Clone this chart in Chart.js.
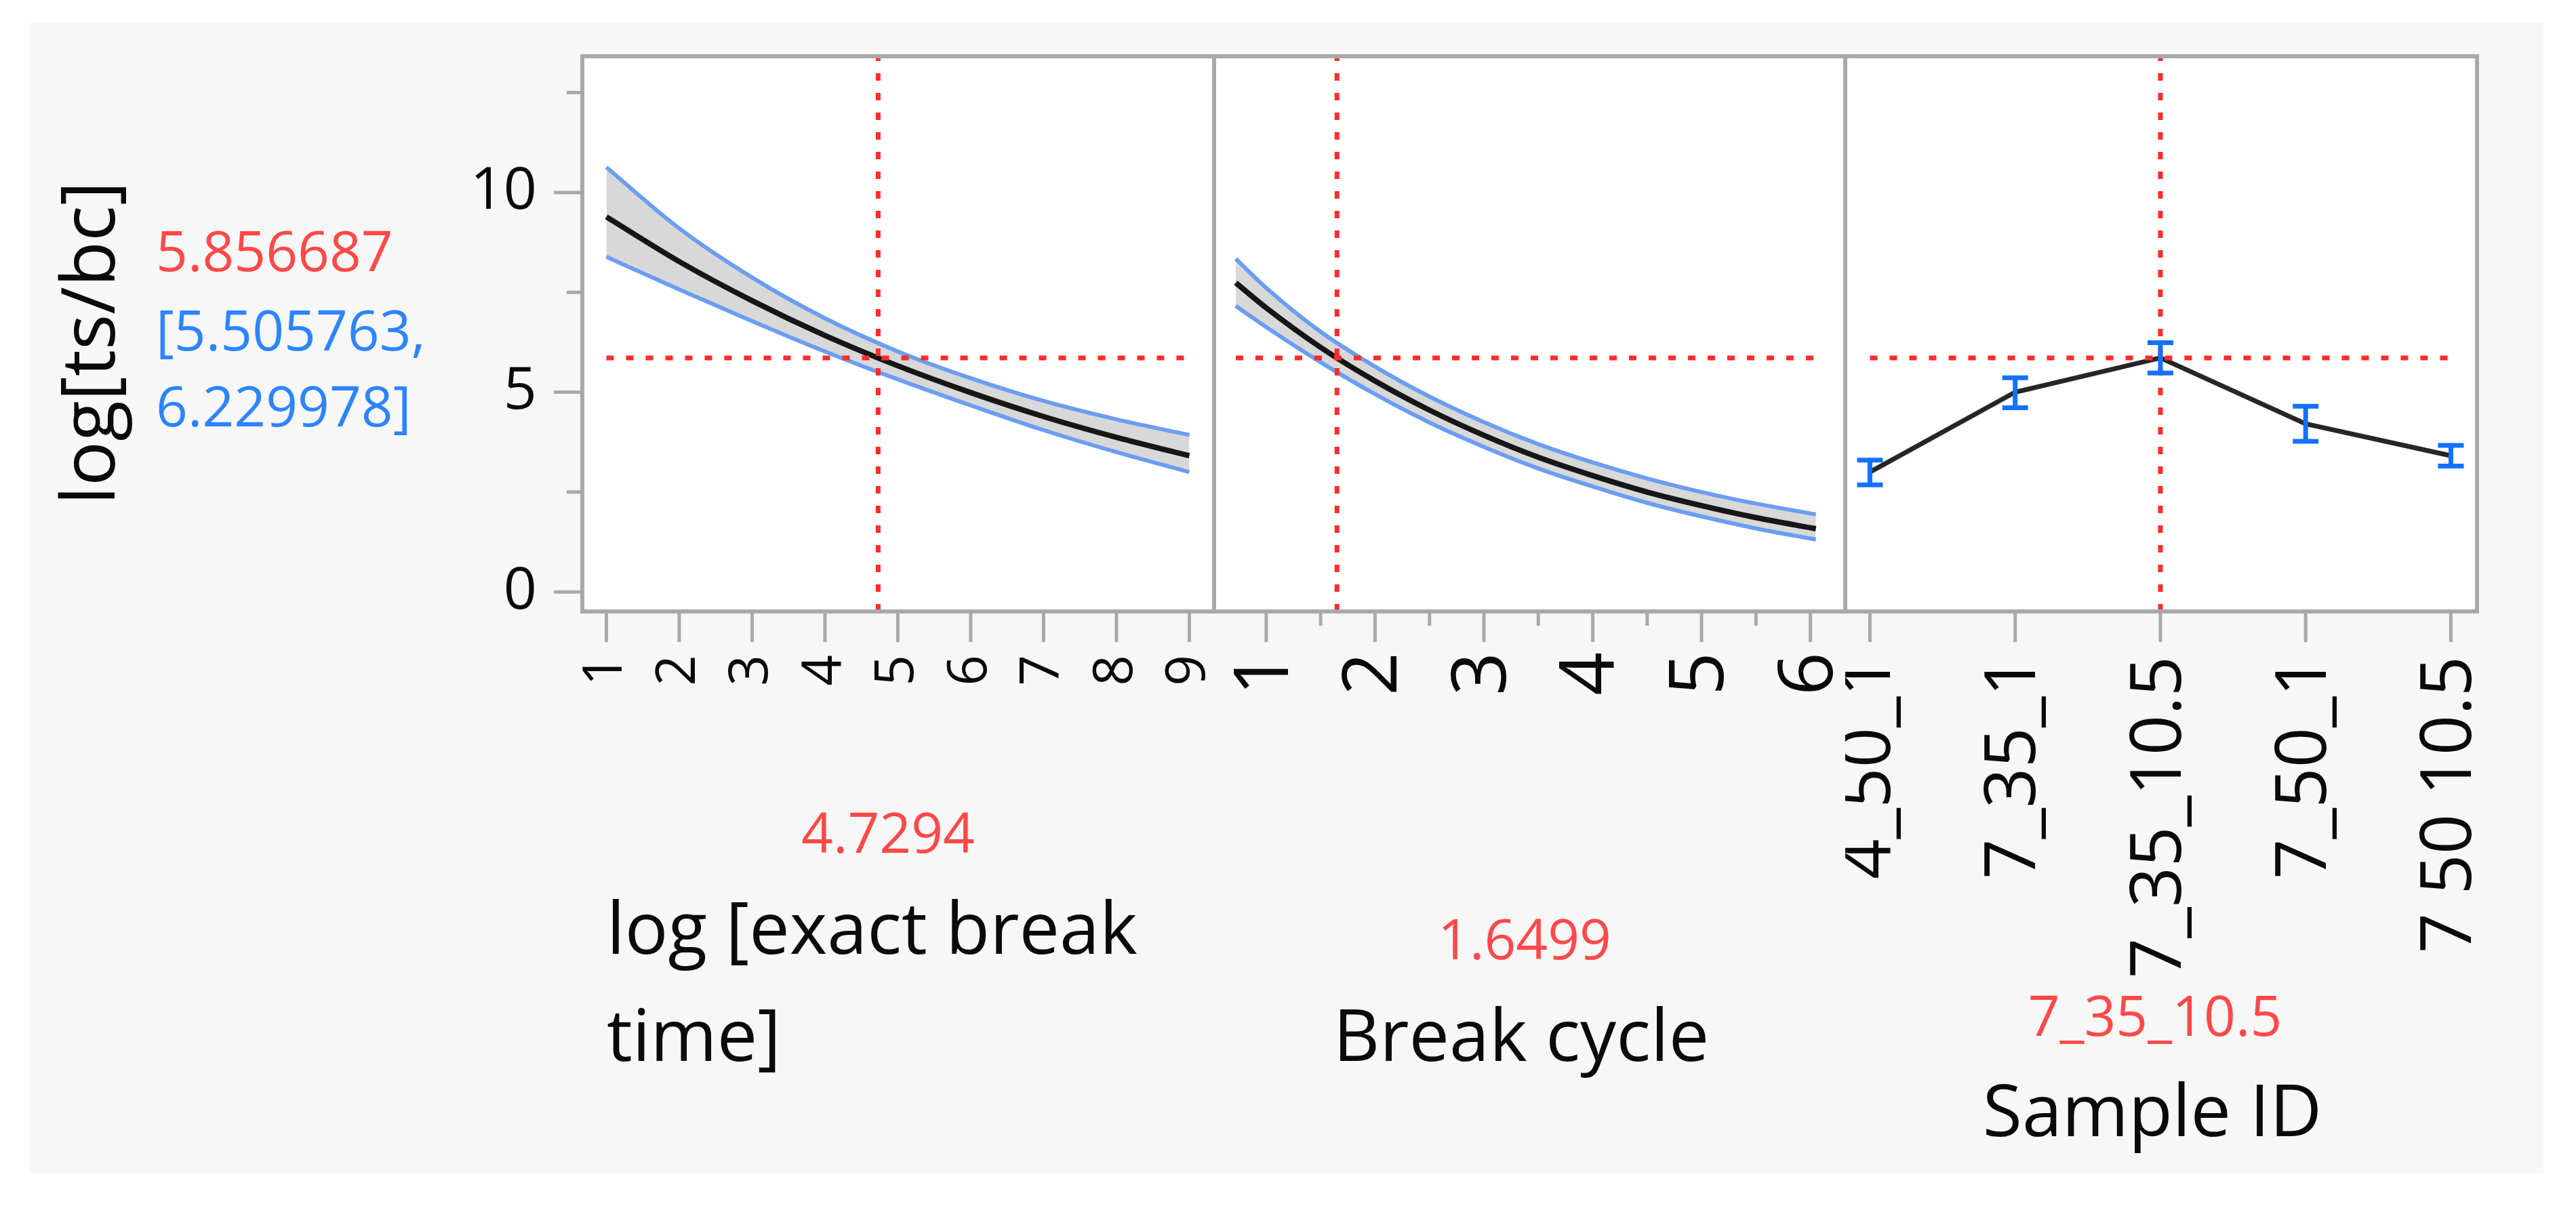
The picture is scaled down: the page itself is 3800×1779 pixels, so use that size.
<!DOCTYPE html>
<html>
<head>
<meta charset="utf-8">
<script src="https://cdn.jsdelivr.net/npm/chart.js@4.4.1/dist/chart.umd.min.js"></script>
<style>
  html, body { margin: 0; padding: 0; background: #fff; }
  #page { position: relative; width: 3800px; height: 1779px; font-family: 'Open Sans', sans-serif; color: #0a0a0a; }
  #box { position: absolute; left: 44px; top: 34px; width: 3708px; height: 1697px; background: #f7f7f7; }
  canvas { position: absolute; top: 60px; }
  .txt { position: absolute; line-height: 1; white-space: nowrap; }
  .mid { transform: translateX(-50%); }
  .red { color: #ff4848; font-size: 82px; }
  .blue { color: #2c84ff; font-size: 82px; }
  .title { font-size: 106px; }
</style>
</head>
<body>
<div id="page">
  <div id="box"></div>
  <canvas id="c1" width="1231" height="1400" style="left:560px"></canvas>
  <canvas id="c2" width="931" height="1400" style="left:1791px"></canvas>
  <canvas id="c3" width="978" height="1400" style="left:2722px"></canvas>

  <div class="txt" id="ytitle" style="font-size:110px;left:126px;top:506px;transform:translate(-50%,-50%) rotate(-90deg)">log[ts/bc]</div>
  <div class="txt red" id="predTxt" style="left:230px;top:327px"></div>
  <div class="txt blue" id="ciLow" style="left:230px;top:444px"></div>
  <div class="txt blue" id="ciHigh" style="left:230px;top:556px"></div>

  <div class="txt red mid" id="timeTxt" style="left:1310px;top:1185px"></div>
  <div class="txt title" style="left:895px;top:1313px">log [exact break</div>
  <div class="txt title" style="left:895px;top:1471px">time]</div>

  <div class="txt red mid" id="cycleTxt" style="left:2249px;top:1342px"></div>
  <div class="txt title mid" style="left:2244px;top:1471px">Break cycle</div>

  <div class="txt red mid" id="sampleTxt" style="left:3179px;top:1455px"></div>
  <div class="txt title mid" style="left:3175px;top:1582px">Sample ID</div>
</div>

<script>
// current settings of the profiler
const predicted = 5.856687;
const ciLow = 5.505763;
const ciHigh = 6.229978;
const currentTime = 4.7294;
const currentCycle = 1.6499;
const currentSample = '7_35_10.5';

// log [exact break time] profile
const timeX = [1, 2, 3, 4, 5, 6, 7, 8, 9];
const timeMean = [9.39, 8.27, 7.29, 6.42, 5.66, 4.99, 4.39, 3.87, 3.41];
const timeUpper = [10.63, 9.10, 7.87, 6.85, 6.02, 5.35, 4.78, 4.32, 3.93];
const timeLower = [8.39, 7.57, 6.78, 6.02, 5.32, 4.67, 4.05, 3.50, 3.00];
const timeTicks = [1, 2, 3, 4, 5, 6, 7, 8, 9];

// Break cycle profile
const cycleX = [0.72, 1, 1.5, 2, 2.5, 3, 3.5, 4, 4.5, 5, 5.5, 6.05];
const cycleMean = [7.74, 7.11, 6.12, 5.28, 4.55, 3.92, 3.37, 2.91, 2.50, 2.16, 1.86, 1.58];
const cycleUpper = [8.34, 7.61, 6.51, 5.64, 4.89, 4.25, 3.70, 3.24, 2.84, 2.50, 2.21, 1.94];
const cycleLower = [7.16, 6.63, 5.75, 4.95, 4.24, 3.63, 3.09, 2.64, 2.23, 1.89, 1.59, 1.31];
const cycleTicks = [1, 1.5, 2, 2.5, 3, 3.5, 4, 4.5, 5, 5.5, 6];

// Sample ID profile
const sampleIds = ['4_50_1', '7_35_1', '7_35_10.5', '7_50_1', '7 50 10.5'];
const sampleMean = [3.00, 5.00, 5.86, 4.21, 3.41];
const sampleLow = [2.68, 4.61, 5.48, 3.77, 3.15];
const sampleHigh = [3.30, 5.36, 6.24, 4.65, 3.67];

// shared y axis
const yTicks = [0, 2.5, 5, 7.5, 10, 12.5];
const yMin = -0.49;
const yMax = 13.41;

const red = '#ff2b2b';
const blueEdge = '#6b9ef2';
const bandFill = '#d8d8d8';
const frameGrey = '#a9a9a9';

document.getElementById('predTxt').textContent = String(predicted);
document.getElementById('ciLow').textContent = '[' + ciLow + ',';
document.getElementById('ciHigh').textContent = ciHigh + ']';
document.getElementById('timeTxt').textContent = String(currentTime);
document.getElementById('cycleTxt').textContent = String(currentCycle);
document.getElementById('sampleTxt').textContent = currentSample;

function pts(xs, ys) {
    return xs.map((x, i) => ({ x: x, y: ys[i] }));
}

// white plot area, grey frame and tick marks
const frame = {
    id: 'frame',
    beforeDraw(chart) {
        const { ctx, chartArea: a } = chart;
        ctx.save();
        ctx.fillStyle = '#fff';
        ctx.fillRect(a.left, a.top, a.right - a.left, a.bottom - a.top);
        ctx.restore();
    },
    afterDraw(chart, args, opts) {
        const { ctx, chartArea: a, scales } = chart;
        ctx.save();
        ctx.strokeStyle = frameGrey;
        ctx.lineWidth = 6;
        ctx.strokeRect(a.left, a.top, a.right - a.left, a.bottom - a.top);
        ctx.lineWidth = 5;
        ctx.beginPath();
        scales.x.ticks.forEach(t => {
            const px = scales.x.getPixelForValue(t.value);
            const len = Number.isInteger(t.value) ? 45 : 21;
            ctx.moveTo(px, a.bottom);
            ctx.lineTo(px, a.bottom + len);
        });
        if (opts.yMarks) {
            scales.y.ticks.forEach(t => {
                const py = scales.y.getPixelForValue(t.value);
                const len = t.value % 5 === 0 ? 42 : 23;
                ctx.moveTo(a.left, py);
                ctx.lineTo(a.left - len, py);
            });
        }
        ctx.stroke();
        ctx.restore();
    }
};

// confidence bars for the Sample ID panel
const errorBars = {
    id: 'errorBars',
    afterDatasetsDraw(chart) {
        const { ctx, scales: { x, y } } = chart;
        ctx.save();
        ctx.strokeStyle = '#1470ff';
        ctx.lineWidth = 7;
        sampleMean.forEach((m, i) => {
            const px = x.getPixelForValue(i);
            const top = y.getPixelForValue(sampleHigh[i]);
            const bot = y.getPixelForValue(sampleLow[i]);
            ctx.beginPath();
            ctx.moveTo(px, top); ctx.lineTo(px, bot);
            ctx.moveTo(px - 19, top); ctx.lineTo(px + 19, top);
            ctx.moveTo(px - 19, bot); ctx.lineTo(px + 19, bot);
            ctx.stroke();
        });
        ctx.restore();
    }
};

function bandSets(xs, mean, upper, lower) {
    return [
        { data: pts(xs, upper), borderWidth: 0, pointRadius: 0, fill: '+1', backgroundColor: bandFill, cubicInterpolationMode: 'monotone', order: 5 },
        { data: pts(xs, lower), borderWidth: 0, pointRadius: 0, fill: false, cubicInterpolationMode: 'monotone', order: 5 },
        { data: pts(xs, upper), borderColor: blueEdge, borderWidth: 6, pointRadius: 0, fill: false, cubicInterpolationMode: 'monotone', order: 3 },
        { data: pts(xs, lower), borderColor: blueEdge, borderWidth: 6, pointRadius: 0, fill: false, cubicInterpolationMode: 'monotone', order: 3 },
        { data: pts(xs, mean), borderColor: '#161616', borderWidth: 8, pointRadius: 0, fill: false, cubicInterpolationMode: 'monotone', order: 1 }
    ];
}

function crossSets(x0, x1, xNow) {
    return [
        { data: [{ x: x0, y: predicted }, { x: x1, y: predicted }], borderColor: red, borderWidth: 7, borderDash: [11, 18], pointRadius: 0, fill: false, order: 0 },
        { data: [{ x: xNow, y: yMin }, { x: xNow, y: yMax }], borderColor: red, borderWidth: 7, borderDash: [11, 18], pointRadius: 0, fill: false, order: 0 }
    ];
}

function makeOptions(cfg) {
    return {
        responsive: false,
        animation: false,
        layout: { padding: { top: 23, right: cfg.padRight || 0, left: 0, bottom: 0 } },
        plugins: {
            legend: { display: false },
            tooltip: { enabled: false },
            frame: { yMarks: cfg.showY }
        },
        scales: {
            x: {
                type: 'linear',
                min: cfg.xMin,
                max: cfg.xMax,
                grid: { display: false },
                border: { display: false },
                afterBuildTicks: s => { s.ticks = cfg.xTicks.map(v => ({ value: v })); },
                afterFit: s => {
                    s.height = 558;
                    s.paddingLeft = 0;
                    s.paddingRight = 0;
                },
                ticks: {
                    autoSkip: false,
                    minRotation: 90,
                    maxRotation: 90,
                    padding: cfg.xPad,
                    color: '#0a0a0a',
                    font: { family: 'Open Sans', size: cfg.xFont },
                    callback: cfg.xLabel
                }
            },
            y: {
                type: 'linear',
                display: cfg.showY,
                min: yMin,
                max: yMax,
                grid: { display: false },
                border: { display: false },
                afterBuildTicks: s => { s.ticks = yTicks.map(v => ({ value: v })); },
                afterFit: s => {
                    s.width = cfg.showY ? 299 : 0;
                    s.paddingTop = 0;
                    s.paddingBottom = 0;
                },
                ticks: {
                    padding: 59,
                    color: '#0a0a0a',
                    font: { family: 'Open Sans', size: 86 },
                    callback: v => (v % 5 === 0 ? String(v) : '')
                }
            }
        }
    };
}

new Chart(document.getElementById('c1'), {
    type: 'line',
    data: { datasets: bandSets(timeX, timeMean, timeUpper, timeLower).concat(crossSets(timeX[0], timeX[timeX.length - 1], currentTime)) },
    options: makeOptions({
        xMin: 0.67, xMax: 9.34, xTicks: timeTicks, xPad: 56, xFont: 80, showY: true,
        xLabel: v => String(v)
    }),
    plugins: [frame]
});

new Chart(document.getElementById('c2'), {
    type: 'line',
    data: { datasets: bandSets(cycleX, cycleMean, cycleUpper, cycleLower).concat(crossSets(cycleX[0], cycleX[cycleX.length - 1], currentCycle)) },
    options: makeOptions({
        xMin: 0.521, xMax: 6.32, xTicks: cycleTicks, xPad: 52, xFont: 112, showY: false,
        xLabel: v => (Number.isInteger(v) ? String(v) : '')
    }),
    plugins: [frame]
});

const sampleIdx = sampleIds.map((s, i) => i);
const currentIdx = sampleIds.indexOf(currentSample);

new Chart(document.getElementById('c3'), {
    type: 'line',
    data: {
        datasets: [
            { data: pts(sampleIdx, sampleMean), borderColor: '#262626', borderWidth: 7, pointRadius: 0, fill: false, order: 1 }
        ].concat(crossSets(sampleIdx[0], sampleIdx[sampleIdx.length - 1], currentIdx))
    },
    options: makeOptions({
        xMin: -0.17, xMax: 4.18, xTicks: sampleIdx, xPad: 58, xFont: 104, showY: false, padRight: 46,
        xLabel: v => sampleIds[v]
    }),
    plugins: [frame, errorBars]
});
</script>
</body>
</html>
